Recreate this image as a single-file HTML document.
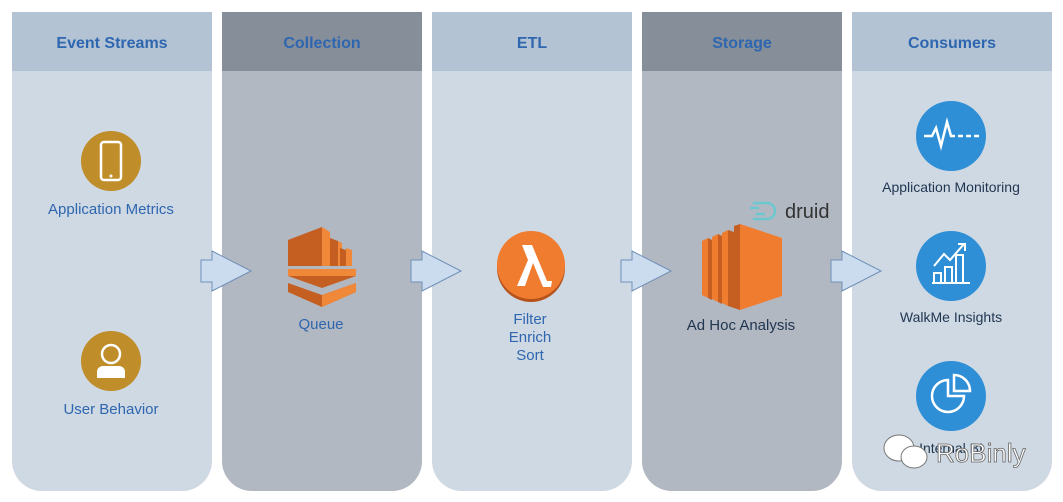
<!DOCTYPE html>
<html><head><meta charset="utf-8"><style>
html,body{margin:0;padding:0;background:#fff}
svg{display:block}
text{font-family:"Liberation Sans",sans-serif}
</style></head><body>
<svg width="1063" height="502" viewBox="0 0 1063 502" xmlns="http://www.w3.org/2000/svg">
<defs>
<path id="col" d="M0 0H200V449a30 30 0 0 1-30 30H30A30 30 0 0 1 0 449Z"/>
</defs>
<g transform="translate(12,12)"><use href="#col" fill="#cfd9e3"/><rect width="200" height="59" fill="#b3c3d3"/></g>
<g transform="translate(222,12)"><use href="#col" fill="#b2b8c1"/><rect width="200" height="59" fill="#858e99"/></g>
<g transform="translate(432,12)"><use href="#col" fill="#cfd9e3"/><rect width="200" height="59" fill="#b3c3d3"/></g>
<g transform="translate(642,12)"><use href="#col" fill="#b2b8c1"/><rect width="200" height="59" fill="#858e99"/></g>
<g transform="translate(852,12)"><use href="#col" fill="#cfd9e3"/><rect width="200" height="59" fill="#b3c3d3"/></g>
<g font-size="16" font-weight="bold" fill="#2e66b0" text-anchor="middle">
<text x="112" y="48">Event Streams</text>
<text x="322" y="48">Collection</text>
<text x="532" y="48">ETL</text>
<text x="742" y="48">Storage</text>
<text x="952" y="48">Consumers</text>
</g>
<g fill="#cbdcef" stroke="#6f8fb8" stroke-width="1">
<path d="M201 260H212V251L251 271L212 291V282H201Z"/>
<path d="M411 260H422V251L461 271L422 291V282H411Z"/>
<path d="M621 260H632V251L671 271L632 291V282H621Z"/>
<path d="M831 260H842V251L881 271L842 291V282H831Z"/>
</g>
<circle cx="111" cy="161" r="30" fill="#bf8e2a"/>
<rect x="101" y="142" width="20" height="38" rx="3" fill="none" stroke="#fff" stroke-width="2.5"/>
<circle cx="111" cy="176" r="1.5" fill="#fff"/>
<text x="111" y="214" font-size="15" fill="#2e66b0" text-anchor="middle">Application Metrics</text>
<circle cx="111" cy="361" r="30" fill="#bf8e2a"/>
<circle cx="111" cy="354" r="9" fill="none" stroke="#fff" stroke-width="2.5"/>
<path d="M97 378v-6a6 6 0 0 1 6-6h16a6 6 0 0 1 6 6v6Z" fill="#fff"/>
<text x="111" y="414" font-size="15" fill="#2e66b0" text-anchor="middle">User Behavior</text>
<path d="M288 240L322 227V266H288Z" fill="#c55f21"/>
<path d="M322 227L330 232V266H322Z" fill="#f0883a"/>
<path d="M330 238L338 241V266H330Z" fill="#c55f21"/><path d="M338 241L342 243V266H338Z" fill="#f0883a"/>
<path d="M340 248L346 250V266H340Z" fill="#c55f21"/><path d="M346 248L352 250V266H346Z" fill="#f0883a"/>
<path d="M288 269H356V276L322 288L288 276Z" fill="#c55f21"/>
<path d="M288 269H356V276H288Z" fill="#f0883a"/>
<path d="M288 283L322 295L356 283V292L322 307L288 292Z" fill="#c55f21"/>
<path d="M322 295L356 283V292L322 307Z" fill="#f0883a"/>
<text x="321" y="329" font-size="15" fill="#2e66b0" text-anchor="middle">Queue</text>
<circle cx="531" cy="268" r="34" fill="#b5521c"/>
<circle cx="531" cy="265" r="34" fill="#f07c2f"/>
<path d="M517 286L528 260L522 245H532L547 281H552L551 287H543L533 263L525 286Z" fill="#fff"/>
<g font-size="15" fill="#2e66b0" text-anchor="middle">
<text x="530" y="324">Filter</text><text x="530" y="342">Enrich</text><text x="530" y="360">Sort</text>
</g>
<g>
<path d="M702 241L708 238V298L702 295Z" fill="#f07c2f"/><path d="M708 238L712 240V300L708 298Z" fill="#c55f21"/>
<path d="M712 237L718 234V302L712 299Z" fill="#f07c2f"/><path d="M718 234L722 236V304L718 302Z" fill="#c55f21"/>
<path d="M722 233L728 230V306L722 303Z" fill="#f07c2f"/><path d="M728 230L734 232V308L728 306Z" fill="#c55f21"/>
<path d="M734 226L740 224V310L734 308Z" fill="#c55f21"/>
<path d="M740 224L782 238V296L740 310Z" fill="#f07c2f"/>
</g>
<text x="741" y="330" font-size="15" fill="#1f3550" text-anchor="middle">Ad Hoc Analysis</text>
<path d="M753 203h14a8 8 0 0 1 0 16h-14M750 208h9M756 214h9" fill="none" stroke="#6cc8d0" stroke-width="2.5"/>
<text x="785" y="218" font-size="20" fill="#333">druid</text>
<circle cx="951" cy="136" r="35" fill="#2f8fd6"/>
<path d="M924 136h8l4 -8l5 18l6 -24l4 14h4" fill="none" stroke="#fff" stroke-width="2.5"/>
<path d="M958 136h22" stroke="#fff" stroke-width="2.5" stroke-dasharray="5 3"/>
<text x="951" y="192" font-size="14" fill="#1f3550" text-anchor="middle">Application Monitoring</text>
<circle cx="951" cy="266" r="35" fill="#2f8fd6"/>
<g fill="none" stroke="#fff" stroke-width="2">
<path d="M932 283h38M934 283v-10h7v10M945 283v-16h7v16M956 283v-28h7v28M934 266l10-12 6 6 14-16M958 244h7v7"/>
</g>
<text x="951" y="322" font-size="14" fill="#1f3550" text-anchor="middle">WalkMe Insights</text>
<circle cx="951" cy="396" r="35" fill="#2f8fd6"/>
<g fill="none" stroke="#fff" stroke-width="2.5">
<path d="M948 380a16 16 0 1 0 16 16h-16Z"/><path d="M954 375a16 16 0 0 1 16 16h-16Z"/>
</g>
<text x="951" y="453" font-size="14" fill="#1f3550" text-anchor="middle">Internal BI</text>
<ellipse cx="899" cy="448" rx="15" ry="13" fill="#fff" stroke="#777"/>
<ellipse cx="914" cy="457" rx="13" ry="11" fill="#fff" stroke="#777"/>
<text x="936" y="462" font-size="26" fill="#fff" stroke="#666" stroke-width="0.8">RoBinly</text>
</svg>
</body></html>
